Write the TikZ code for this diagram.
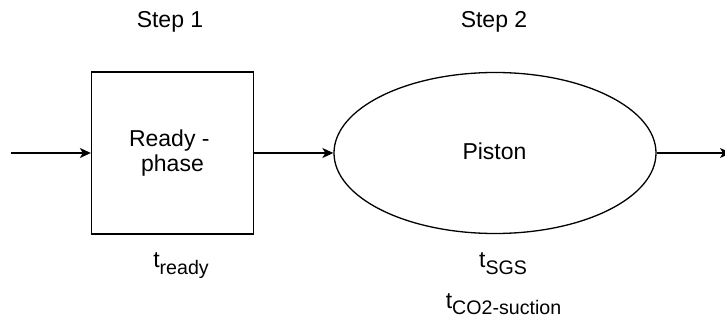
\documentclass[tikz,border=0pt]{standalone}
\usepackage{fontspec}
\setmainfont{Liberation Sans}
\usetikzlibrary{shapes.geometric,arrows.meta}
\newcommand{\mainsize}{\fontsize{23}{25}\selectfont}
\newcommand{\subtxt}[1]{\raisebox{-6pt}{\fontsize{19.6}{20}\selectfont #1}}
\begin{document}
\begin{tikzpicture}[x=1pt,y=-1pt,
  shape line/.style={draw=black,line width=1.3pt},
  stepbox/.style={shape line,rectangle,minimum width=162pt,minimum height=162pt,
    inner sep=0pt,align=center,font=\mainsize},
  stepoval/.style={shape line,ellipse,minimum width=322pt,minimum height=161pt,
    inner sep=0pt,font=\mainsize},
  label text/.style={anchor=base,inner sep=0pt,font=\mainsize},
  flow/.style={line width=1.4pt,-{Stealth[length=11pt,width=10pt,inset=3pt]}}]
\useasboundingbox (0,0) rectangle (725,320);

% step headings
\node[label text] (h1) at (170,27.7) {Step 1};
\node[label text] (h2) at (494,27.7) {Step 2};

% process blocks
\node[stepbox] (ready) at (172.5,153) {Ready -\kern0.278em\\phase};
\node[stepoval] (piston) at (495,153) {};
\node[label text] (pistontext) at (494.5,160) {Piston};

% timing labels
\node[label text] (tready) at (181,268) {t\subtxt{ready}};
\node[label text] (tsgs) at (503,268) {t\subtxt{SGS}};
\node[label text] (tco2) at (503.5,308.5) {t\subtxt{CO2-suction}};

% flow connectors (the outgoing one runs off the right edge)
\coordinate (in) at (11,153);
\coordinate (out) at (731,153);
\draw[flow] (in) -- (ready.west);
\draw[flow] (ready.east) -- (piston.west);
\draw[flow] (piston.east) -- (out);
\end{tikzpicture}
\end{document}
